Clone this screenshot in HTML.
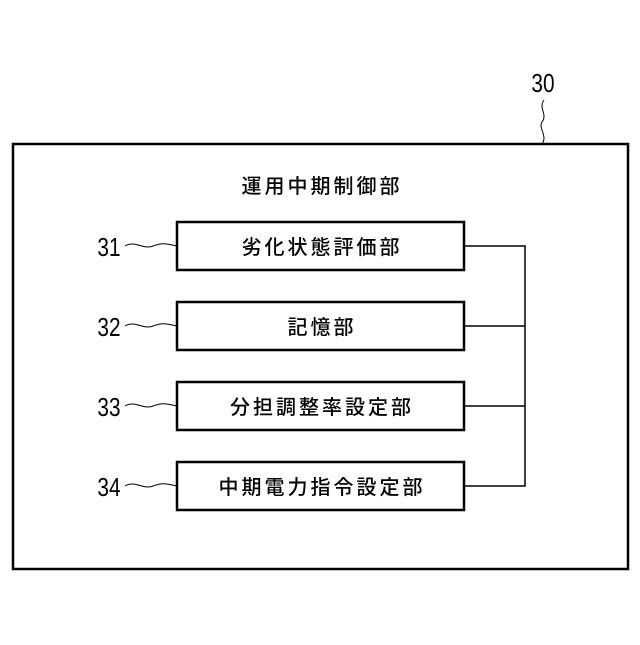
<!DOCTYPE html>
<html><head><meta charset="utf-8"><style>
body{margin:0;background:#fff;}
svg text{font-family:"Liberation Sans","Noto Sans CJK JP",sans-serif;fill:#000;}
.j{font-size:20px;letter-spacing:3px;font-weight:500;}
.n{font-size:26px;}
</style></head><body>
<svg width="640" height="640" viewBox="0 0 640 640" xmlns="http://www.w3.org/2000/svg">
<g fill="none" stroke="#000">
<rect x="13" y="144" width="615" height="425" stroke-width="2.5"/>
<rect x="177" y="222" width="287" height="48" stroke-width="2.5"/>
<rect x="177" y="302" width="287" height="48" stroke-width="2.5"/>
<rect x="177" y="382" width="287" height="48" stroke-width="2.5"/>
<rect x="177" y="462" width="287" height="48" stroke-width="2.5"/>
<path d="M464 246H525V486H464M464 326H525M464 406H525" stroke-width="1.5"/>
<path d="M544 100c-6 8 4 14-2 22c-4 6 6 14 0 22" stroke-width="1"/>
<path d="M125 246c10-6 18 4 28 0s14-2 24 0" stroke-width="1"/>
<path d="M125 326c10-6 18 4 28 0s14-2 24 0" stroke-width="1"/>
<path d="M125 406c10-6 18 4 28 0s14-2 24 0" stroke-width="1"/>
<path d="M125 486c10-6 18 4 28 0s14-2 24 0" stroke-width="1"/>
</g>
<text class="n" transform="translate(543,92) scale(0.8,1)" text-anchor="middle">30</text>
<text class="j" x="322" y="193" text-anchor="middle">運用中期制御部</text>
<text class="j" x="322" y="254" text-anchor="middle">劣化状態評価部</text>
<text class="j" x="322" y="334" text-anchor="middle">記憶部</text>
<text class="j" x="322" y="414" text-anchor="middle">分担調整率設定部</text>
<text class="j" x="322" y="494" text-anchor="middle">中期電力指令設定部</text>
<text class="n" transform="translate(109,256) scale(0.8,1)" text-anchor="middle">31</text>
<text class="n" transform="translate(109,336) scale(0.8,1)" text-anchor="middle">32</text>
<text class="n" transform="translate(109,416) scale(0.8,1)" text-anchor="middle">33</text>
<text class="n" transform="translate(109,496) scale(0.8,1)" text-anchor="middle">34</text>
</svg>
</body></html>
